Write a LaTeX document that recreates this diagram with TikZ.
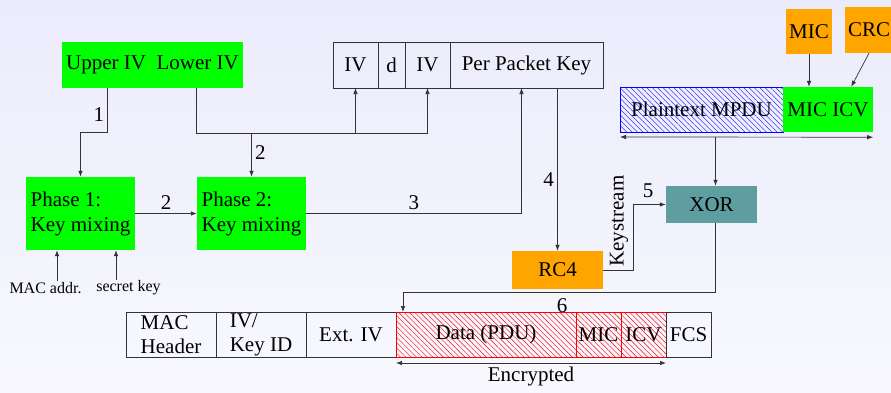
\documentclass[tikz,border=0pt]{standalone}
\usepackage{fontspec}
\setmainfont{Liberation Serif}
\usepackage{tikz}
\usetikzlibrary{positioning}
\usetikzlibrary{arrows.meta, patterns.meta}

\definecolor{bgtop}{RGB}{235,235,252}
\definecolor{bgbot}{RGB}{248,248,254}
\definecolor{keygreen}{RGB}{0,255,0}
\definecolor{rcorange}{RGB}{255,165,0}
\definecolor{xorteal}{RGB}{95,158,160}

\begin{document}
\begin{tikzpicture}[x=1pt, y=-1pt,
    font=\fontsize{21}{25}\selectfont,
    >={Latex[length=6pt,width=4.5pt]},
    wire/.style={draw=black!80, line width=0.7pt},
    greenbox/.style={rectangle, fill=keygreen, inner sep=0pt},
    orangebox/.style={rectangle, fill=rcorange, inner sep=0pt},
    fieldbox/.style={rectangle, draw=black!80, line width=0.7pt,
      inner sep=0pt, outer sep=0pt, minimum height=46pt},
    hatched/.style={pattern={Lines[angle=-45, distance=3.8pt, line width=0.4pt]}},
    cipherbox/.style={fieldbox, draw=red, hatched, pattern color=red},
    smalltext/.style={font=\fontsize{16}{18}\selectfont, inner sep=1pt}]
    \shade[top color=bgtop, bottom color=bgbot] (0,0) rectangle (891,392);
    \useasboundingbox (0,0) rectangle (891,392);
    \node[greenbox, minimum width=181pt, minimum height=46pt] (ivs) at (152.5,65) {Upper IV\ \ Lower IV};
    \node[fieldbox, minimum width=45pt] (iv1) at (355.5,65) {IV};
    \node[fieldbox, minimum width=27pt] (dd) [right=0pt of iv1] {d};
    \node[fieldbox, minimum width=45pt] (iv2) [right=0pt of dd] {IV};
    \node[fieldbox, minimum width=153pt] (ppk) [right=0pt of iv2] {Per Packet Key};
    \node[greenbox, minimum width=109pt, minimum height=73pt, align=left] (phase1) at (80.5,213.5) {Phase 1:\\Key mixing};
    \node[greenbox, minimum width=109pt, minimum height=73pt, align=left] (phase2) at (251.5,213.5) {Phase 2:\\Key mixing};
    \node[smalltext] (macaddr) at (45.5,288) {MAC addr.};
    \node[smalltext] (seckey) at (128.5,288) {secret key};
    \node[orangebox, minimum width=91pt, minimum height=38pt] (rc4) at (557.5,270) {RC4};
    \node[rectangle, fill=xorteal, minimum width=91pt, minimum height=37pt] (xor) at (711.5,204.5) {XOR};
    \node[orangebox, minimum width=46pt, minimum height=45pt] (mic) at (809,31.5) {MIC};
    \node[orangebox, minimum width=48pt, minimum height=46pt] (crc) at (869,30) {CRC};
    \node[fieldbox, draw=blue, hatched, pattern color=blue,
      minimum width=163pt, minimum height=45pt] (plain) at (701.5,109.5) {Plaintext MPDU};
    \node[greenbox, minimum width=90pt, minimum height=45pt] (micicv) at (828,109.5) {MIC ICV};
    \node[rotate=90] (ks) at (619,221) {Keystream};
    \node (n6) at (562,306) {6};
    \node[fieldbox, minimum width=90pt, minimum height=45pt, align=left,
      font=\fontsize{21}{24}\selectfont] (machdr) at (171,334.5) {MAC\\Header};
    \node[fieldbox, minimum width=90pt, minimum height=45pt, align=left,
      font=\fontsize{21}{24}\selectfont] (ivkey) [right=0pt of machdr] {IV/\\Key ID};
    \node[fieldbox, minimum width=90pt, minimum height=45pt] (extiv) [right=0pt of ivkey] {Ext. IV};
    \node[cipherbox, minimum width=180pt, minimum height=45pt] (data) [right=0pt of extiv] {Data (PDU)};
    \node[cipherbox, minimum width=45pt, minimum height=45pt] (mic2) [right=0pt of data] {MIC};
    \node[cipherbox, minimum width=45pt, minimum height=45pt] (icv) [right=0pt of mic2] {ICV};
    \node[fieldbox, minimum width=45pt, minimum height=45pt] (fcs) [right=0pt of icv] {FCS};
    \coordinate (bus) at (0,133);
    \draw[wire, ->] ([xshift=46pt]ivs.south west) -- node[left, pos=0.61] (n1) {1} ++(0,44) -| (phase1.north);
    \draw[wire, ->] ([xshift=135pt]ivs.south west) |- (bus -| iv2.south) -- (iv2.south);
    \draw[wire, ->] (bus -| iv1.south) -- (iv1.south);
    \draw[wire, ->] (bus -| phase2.north) -- node[right, pos=0.45] (n2a) {2} (phase2.north);
    \draw[wire, ->] (phase1.east) -- node[above] (n2b) {2} (phase2.west);
    \draw[wire, ->] (phase2.east) -| node[above, pos=0.25] (n3) {3} ([xshift=-5pt]ppk.south);
    \draw[wire, ->] (ppk.south -| rc4.north) -- node[left, pos=0.56] (n4) {4} (rc4.north);
    \draw[wire, ->] (rc4.east) -- ++(30,0) |- node[above=3pt, pos=0.73] (n5) {5} (xor.west);
    \draw[wire, ->] ([xshift=4pt]xor.south) |- ([xshift=7pt,yshift=20pt]data.north west) -- ([xshift=7pt]data.north west);
    \draw[wire, ->] (mic.south) -- (mic.south |- micicv.north);
    \draw[wire, ->] (crc.south) -- ([xshift=-22pt]micicv.north east);
    \draw[wire, <->] ([yshift=-5pt]plain.south west) -- ([yshift=-5pt]micicv.south east);
    \draw[wire, ->] ([xshift=4pt,yshift=-5pt]xor.north |- plain.south) -- ([xshift=4pt]xor.north);
    \draw[wire, <->] ([yshift=-6pt]data.south west) -- node[below] (enc) {Encrypted} ([yshift=-6pt]icv.south east);
    \draw[wire, ->] ([xshift=11.5pt]macaddr.north) -- ([xshift=11.5pt]macaddr.north |- phase1.south);
    \draw[wire, ->] ([xshift=-12.5pt]seckey.north) -- ([xshift=-12.5pt]seckey.north |- phase1.south);
  \end{tikzpicture}
\end{document}
